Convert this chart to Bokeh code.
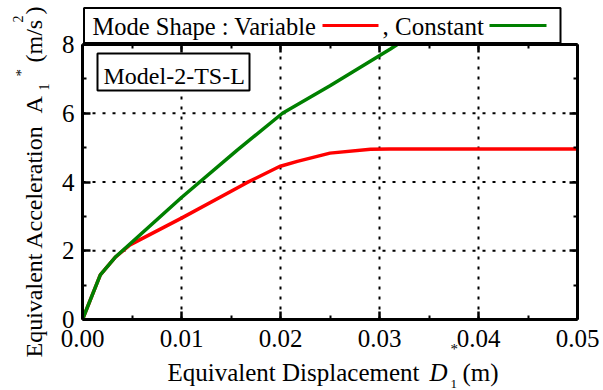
import numpy as np
from bokeh.plotting import figure
from bokeh.models import (LinearAxis, FixedTicker, PrintfTickFormatter,
                          Label, BoxAnnotation, Arrow, Range1d)
from bokeh.embed import file_html
from bokeh.resources import INLINE

# ---------------- data ----------------
disp_variable = [0.0, 0.0018, 0.0033, 0.0048, 0.0100, 0.0166, 0.0199, 0.0217, 0.0250, 0.0291, 0.0310, 0.0500]
acc_variable = [0.0, 1.30, 1.81, 2.17, 2.95, 3.98, 4.45, 4.60, 4.84, 4.95, 4.96, 4.96]
disp_constant = [0.0, 0.0018, 0.0033, 0.0100, 0.0156, 0.0202, 0.0250, 0.0311, 0.0318]
acc_constant = [0.0, 1.30, 1.81, 3.55, 4.92, 6.00, 6.80, 7.87, 8.00]

x_major_ticks = [0.0, 0.01, 0.02, 0.03, 0.04, 0.05]
x_minor_ticks = [0.005, 0.015, 0.025, 0.035, 0.045]
y_major_ticks = [0, 2, 4, 6, 8]
y_minor_ticks = [1, 3, 5, 7]

legend_title = "Mode Shape : Variable"
legend_second = ", Constant"
model_name = "Model-2-TS-L"

FONT = "Liberation Serif"
X0, X1, Y0, Y1 = 0.0, 0.05, 0.0, 8.0      # plotted data window
FL, FR, FT, FB = 82, 577, 44, 319          # where that window sits on the page
W, H = 603, 390


def dx(px):
    return X0 + (px - FL) * (X1 - X0) / (FR - FL)


def dy(py):
    return Y0 + (FB - py) * (Y1 - Y0) / (FB - FT)


# The frame covers the whole page so that titles / legend box are not clipped;
# the axes are pinned to the data window with fixed_location + bounds.
p = figure(width=W, height=H, output_backend="svg", toolbar_location=None,
           x_range=Range1d(dx(0), dx(W)), y_range=Range1d(dy(H), dy(0)),
           x_axis_location=None, y_axis_location=None,
           min_border=0, min_border_left=0, min_border_right=0,
           min_border_top=0, min_border_bottom=0,
           background_fill_color="white", border_fill_color="white")
p.outline_line_color = None
p.xgrid.visible = False
p.ygrid.visible = False

xt = FixedTicker(ticks=x_major_ticks, minor_ticks=x_minor_ticks)
yt = FixedTicker(ticks=y_major_ticks, minor_ticks=y_minor_ticks)


def make_axis(ticker, loc, bounds, show_labels, fmt, standoff):
    ax = LinearAxis(ticker=ticker, fixed_location=loc, bounds=bounds, formatter=fmt)
    ax.axis_line_width = 3
    ax.axis_line_color = "black"
    ax.major_tick_in = 8
    ax.major_tick_out = 0
    ax.minor_tick_in = 4
    ax.minor_tick_out = 0
    ax.major_tick_line_width = 2.5
    ax.minor_tick_line_width = 2
    ax.major_label_text_font = FONT
    ax.major_label_text_font_size = "25px" if show_labels else "0px"
    ax.major_label_text_color = "black" if show_labels else None
    ax.major_label_standoff = standoff
    return ax


# ---------------- dotted grid (from the tick arrays) ----------------
gx = x_major_ticks[1:-1]
gy = y_major_ticks[1:-1]
p.segment(x0=gx, y0=[Y0] * len(gx), x1=gx, y1=[Y1] * len(gx),
          line_color="black", line_width=2, line_dash="3 7")
p.segment(x0=[X0] * len(gy), y0=gy, x1=[X1] * len(gy), y1=gy,
          line_color="black", line_width=2, line_dash="3 7")

# ---------------- curves ----------------
p.line(disp_variable, acc_variable, line_color="#ff0000", line_width=3.5)
p.line(disp_constant, acc_constant, line_color="#008000", line_width=3.5)

# ---------------- axes (box on four sides) ----------------
p.add_layout(make_axis(xt, Y0, (X0, X1), True, PrintfTickFormatter(format="%.2f"), 10), "below")
p.add_layout(make_axis(yt, X0, (Y0, Y1), True, PrintfTickFormatter(format="%d"), 8), "left")
p.add_layout(make_axis(xt, Y1, (X0, X1), False, PrintfTickFormatter(format="%.2f"), 7), "above")
p.add_layout(make_axis(yt, X1, (Y0, Y1), False, PrintfTickFormatter(format="%d"), 7), "right")

# ---------------- model label box ----------------
p.add_layout(BoxAnnotation(left=dx(97), right=dx(249), top=dy(53), bottom=dy(90),
                           fill_color="white", fill_alpha=1.0,
                           line_color="black", line_width=2, line_alpha=1.0))

SHIFT = 0.29  # empirical baseline correction (in em) for the renderer


def lab(px, py, text, size=24, style="normal", angle=0.0):
    if angle == 0.0:
        py = py - SHIFT * size
    else:
        px = px - SHIFT * size
    p.add_layout(Label(x=dx(px), y=dy(py), text=text, text_font=FONT,
                       text_font_size=f"{size}px", text_font_style=style,
                       text_color="black", angle=angle,
                       text_align="left", text_baseline="alphabetic"))


lab(103, 82, model_name, size=24)

# ---------------- legend (above the data window) ----------------
p.add_layout(BoxAnnotation(left=dx(83.5), right=dx(560), top=dy(7.5), bottom=dy(42.5),
                           fill_color="white", fill_alpha=1.0,
                           line_color="black", line_width=2, line_alpha=1.0))
lab(92, 33.5, legend_title, size=24.5)
p.add_layout(Arrow(end=None, x_start=dx(322), y_start=dy(25), x_end=dx(378), y_end=dy(25),
                   line_color="#ff0000", line_width=3))
lab(382, 33.5, legend_second, size=25)
p.add_layout(Arrow(end=None, x_start=dx(489), y_start=dy(25), x_end=dx(546), y_end=dy(25),
                   line_color="#008000", line_width=3))

# ---------------- x axis title ----------------
lab(167, 379, "Equivalent Displacement", size=25)
lab(429, 379, "D", size=25, style="italic")
lab(450, 387, "1", size=13)
lab(450, 353, "*", size=15)
lab(462, 379, "(m)", size=25)

# ---------------- y axis title (rotated) ----------------
R = np.pi / 2
lab(40, 357, "Equivalent Acceleration", size=24, angle=R)
lab(40, 113, "A", size=24, angle=R)
lab(47.5, 90, "1", size=14, angle=R)
lab(25, 76, "*", size=15, angle=R)
lab(40, 62, "(m/s", size=24, angle=R)
lab(21.5, 22, "2", size=14, angle=R)
lab(40, 14, ")", size=24, angle=R)

open("out.html", "w").write(file_html(p, INLINE))
